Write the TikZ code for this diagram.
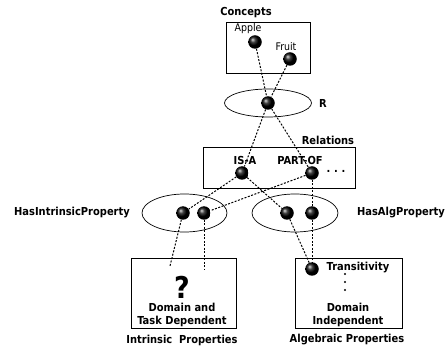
\documentclass[tikz,border=0pt]{standalone}
\usepackage{fontspec}
\setmainfont{DejaVu Sans Condensed}
\begin{document}
\begin{tikzpicture}[x=1pt,y=-1pt,
  ball/.style={circle,inner sep=0pt,minimum size=13.5pt,shading=ball,ball color=black},
  link/.style={line width=1pt,dash pattern=on 2pt off 1.5pt},
  box/.style={draw,line width=0.7pt},
  lbl/.style={font=\bfseries\fontsize{11}{13}\selectfont,inner sep=0pt},
  txt/.style={font=\fontsize{10.5}{12}\selectfont,inner sep=0pt}]
\useasboundingbox (0,0) rectangle (447,347);
% boxes and ellipses
\draw[box] (226,22) rectangle (310,73);
\draw[box] (268,103) ellipse (43.5 and 14);
\draw[box] (203,147) rectangle (355,188);
\draw[box] (184.5,213) ellipse (42.5 and 19);
\draw[box] (295,213) ellipse (43 and 19);
\draw[box] (131,258) rectangle (236,328);
\draw[box] (295,258) rectangle (402,328);
% labels
\node[lbl] (lconcepts) at (246,13) {Concepts};
\node[txt] (lapple) at (248,29) {Apple};
\node[txt] (lfruit) at (286,47) {Fruit};
\node[lbl] (lr) at (323,103) {R};
\node[lbl] (lrel) at (328,140) {Relations};
\node[lbl] (lisa) at (245,160) {IS-A};
\node[lbl] (lpart) at (300,160) {PART-OF};
\node[lbl] (ldots) at (336,171) {.\,\,.\,\,.};
\node[lbl] (lhip) at (72,213) {HasIntrinsicProperty};
\node[lbl] (lhap) at (401,213) {HasAlgProperty};
\node[font=\bfseries\fontsize{30}{32}\selectfont,inner sep=0pt] (lq) at (182,287) {?};
\node[lbl,align=center] (ldom1) at (182,315) {Domain and\\Task Dependent};
\node[lbl] (lintr) at (182,340) {Intrinsic\ \ Properties};
\node[lbl] (ltrans) at (358,268) {Transitivity};
\node[lbl,align=center] (ldom2) at (348,315) {Domain\\Independent};
\node[lbl] (lalg) at (347,340) {Algebraic Properties};
\foreach \yy in {274,282,290} \fill (345,\yy) circle (1.2);
% balls
\node[ball] (apple) at (255,42) {};
\node[ball] (fruit) at (290,59) {};
\node[ball] (r) at (268,103) {};
\node[ball] (isa) at (242,173) {};
\node[ball] (part) at (312,173) {};
\node[ball] (hi1) at (183,213) {};
\node[ball] (hi2) at (204,213) {};
\node[ball] (ha1) at (287,213) {};
\node[ball] (ha2) at (312,213) {};
\node[ball] (trans) at (312,269) {};
\coordinate (e1) at (170,266);
\coordinate (e2) at (204,270);
% links
\draw[link] (apple) -- (r);
\draw[link] (fruit) -- (r);
\draw[link] (r) -- (isa);
\draw[link] (r) -- (part);
\draw[link] (isa) -- (hi1);
\draw[link] (part) -- (hi2);
\draw[link] (isa) -- (ha1);
\draw[link] (part) -- (ha2);
\draw[link] (hi1) -- (e1);
\draw[link] (hi2) -- (e2);
\draw[link] (ha1) -- (trans);
\draw[link] (ha2) -- (trans);
\end{tikzpicture}
\end{document}
